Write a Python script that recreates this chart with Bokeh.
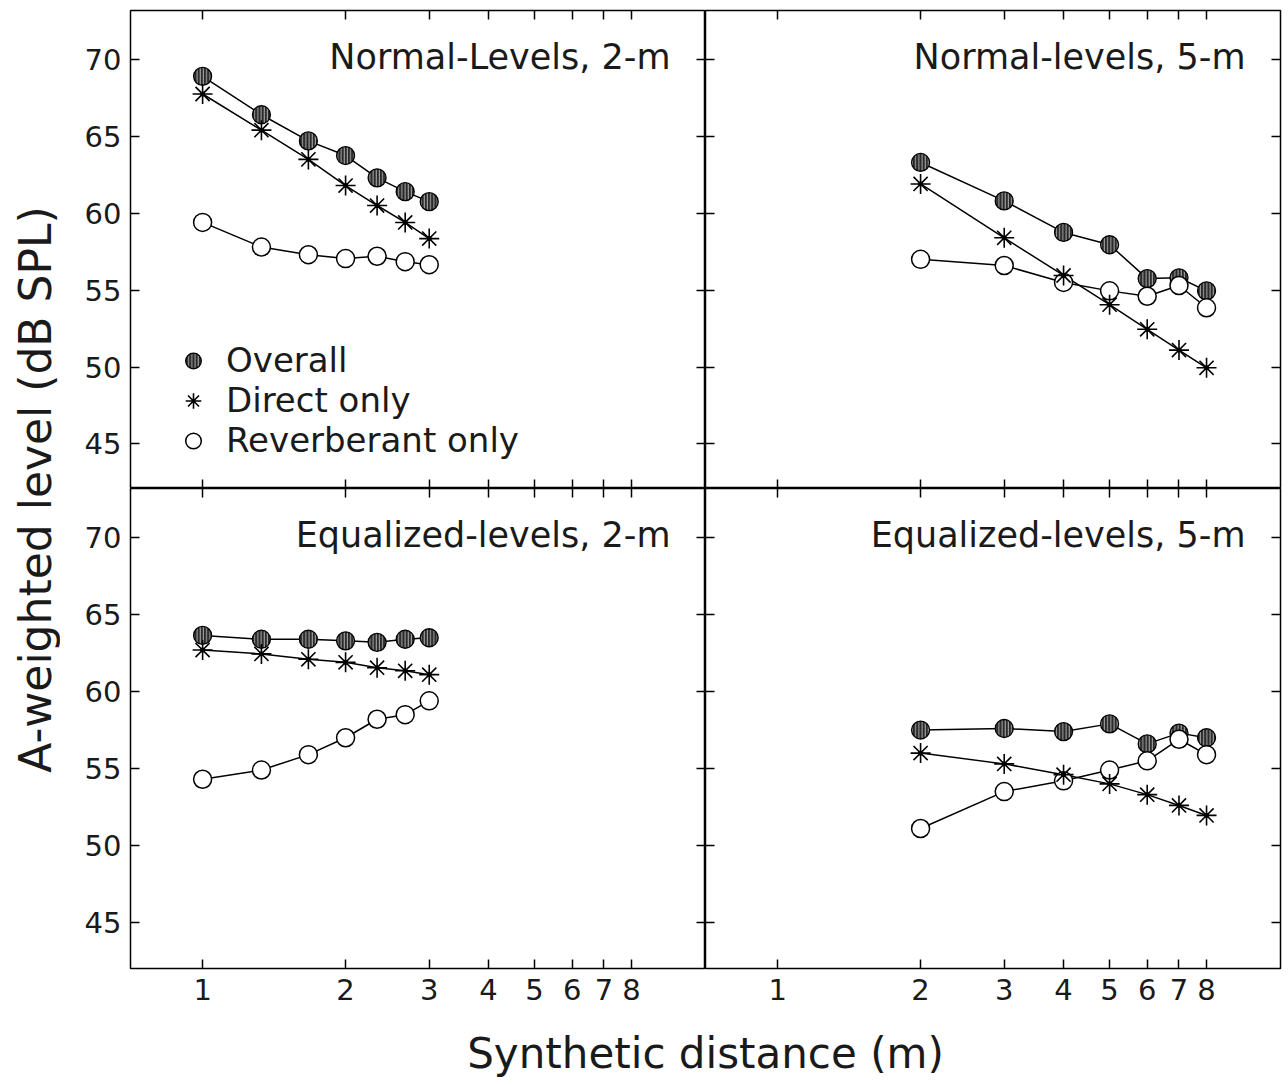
import math
from bokeh.plotting import figure
from bokeh.layouts import column, row
from bokeh.models import (Range1d, LinearAxis, FixedTicker, Legend, LegendItem, Label,
                          CustomLabelingPolicy)
from bokeh.core.properties import value
from bokeh.embed import file_html
from bokeh.resources import INLINE

FONT = "DejaVu Sans"

# ---------------- data ----------------
dist_2m = [1, 1.33, 1.67, 2, 2.33, 2.67, 3]
dist_5m = [2, 3, 4, 5, 6, 7, 8]

normal_2m_overall = [68.9, 66.4, 64.7, 63.75, 62.3, 61.4, 60.75]
normal_2m_direct = [67.75, 65.4, 63.5, 61.8, 60.5, 59.4, 58.35]
normal_2m_reverb = [59.4, 57.8, 57.3, 57.05, 57.2, 56.85, 56.65]

normal_5m_overall = [63.3, 60.8, 58.75, 57.95, 55.75, 55.8, 54.95]
normal_5m_direct = [61.9, 58.4, 55.95, 54.05, 52.45, 51.1, 49.95]
normal_5m_reverb = [57.0, 56.6, 55.5, 54.95, 54.6, 55.3, 53.85]

equal_2m_overall = [63.65, 63.4, 63.4, 63.3, 63.2, 63.4, 63.5]
equal_2m_direct = [62.7, 62.45, 62.1, 61.9, 61.55, 61.35, 61.1]
equal_2m_reverb = [54.3, 54.9, 55.9, 57.0, 58.2, 58.5, 59.4]

equal_5m_overall = [57.5, 57.6, 57.4, 57.9, 56.6, 57.3, 57.0]
equal_5m_direct = [56.0, 55.3, 54.6, 54.0, 53.3, 52.6, 51.95]
equal_5m_reverb = [51.1, 53.5, 54.2, 54.9, 55.5, 56.9, 55.9]

titles = ["Normal-Levels, 2-m", "Normal-levels, 5-m",
          "Equalized-levels, 2-m", "Equalized-levels, 5-m"]
series_labels = ["Overall", "Direct only", "Reverberant only"]
x_ticks = [1, 2, 3, 4, 5, 6, 7, 8]
y_ticks = [45, 50, 55, 60, 65, 70]
x_label = "Synthetic distance (m)"
y_label = "A-weighted level (dB SPL)"

X_RANGE = (0.705, 11.45)
FRAME_W = 575
TEXT_COLOR = "#1a1a1a"

NO_LABELS = CustomLabelingPolicy(code="""
const ids = [...indices.ones()]
for (const i of ids) indices.unset(i)
return indices
""")


def style_axis(ax, ticks, show_labels, size="29px", standoff=9):
    ax.ticker = FixedTicker(ticks=ticks, minor_ticks=[])
    ax.major_tick_in = 9
    ax.major_tick_out = 0
    ax.minor_tick_in = 0
    ax.minor_tick_out = 0
    ax.major_tick_line_color = "black"
    ax.major_tick_line_width = 1.5
    ax.axis_line_color = None
    ax.major_label_overrides = {t: str(t) for t in ticks}
    ax.major_label_text_font = FONT
    ax.major_label_text_color = TEXT_COLOR
    if show_labels:
        ax.major_label_text_font_size = size
        ax.major_label_standoff = standoff
    else:
        ax.major_label_text_font_size = "0px"
        ax.major_label_policy = NO_LABELS
        ax.major_label_standoff = 0


def make_panel(title, x, overall, direct, reverb, left_col, top_row, legend=False):
    frame_h = 478 if top_row else 480
    y_rng = (42.1, 73.18) if top_row else (42.0, 73.2)
    p = figure(x_axis_type="log",
               x_range=Range1d(*X_RANGE), y_range=Range1d(*y_rng),
               frame_width=FRAME_W, frame_height=frame_h,
               x_axis_location=None, y_axis_location=None,
               output_backend="svg", toolbar_location=None,
               min_border_left=70 if left_col else 0,
               min_border_right=0 if left_col else 8,
               min_border_top=10 if top_row else 0,
               min_border_bottom=0 if top_row else 51,
               outline_line_color="black", outline_line_width=1.5,
               background_fill_color="white", border_fill_color="white")
    p.xgrid.visible = False
    p.ygrid.visible = False

    for side in ("left", "right"):
        ax = LinearAxis()
        style_axis(ax, y_ticks, show_labels=(side == "left" and left_col))
        p.add_layout(ax, side)
    for side in ("below", "above"):
        ax = LinearAxis()
        style_axis(ax, x_ticks, show_labels=(side == "below" and not top_row), standoff=10)
        p.add_layout(ax, side)

    p.line(x, overall, line_color="black", line_width=1.5)
    p.line(x, direct, line_color="black", line_width=1.5)
    p.line(x, reverb, line_color="black", line_width=1.5)

    r_over = p.scatter(x, overall, marker="circle", size=18, fill_color="#2a2a2a",
                       line_color="black", line_width=1.3,
                       hatch_pattern="vertical_line", hatch_color="#d0d0d0",
                       hatch_scale=3.2, hatch_weight=0.8)
    r_rev = p.scatter(x, reverb, marker="circle", size=18, fill_color="white",
                      line_color="black", line_width=1.5)
    r_dir = p.scatter(x, direct, marker="asterisk", size=20, line_color="black",
                      line_width=1.6)
    p.scatter(x, direct, marker="circle", size=4, fill_color="black", line_color="black")

    p.add_layout(Label(x=FRAME_W - 35, y=frame_h - 46, x_units="screen", y_units="screen",
                       text=title, text_align="right", text_baseline="middle",
                       text_font=FONT, text_font_size="35px", text_color=TEXT_COLOR))

    if legend:
        leg = Legend(items=[LegendItem(label=series_labels[0], renderers=[r_over]),
                            LegendItem(label=series_labels[1], renderers=[r_dir]),
                            LegendItem(label=series_labels[2], renderers=[r_rev])],
                     location=(40, 28), orientation="vertical",
                     glyph_width=46, glyph_height=39, spacing=0, padding=0, margin=0,
                     label_standoff=10, label_text_font=FONT, label_text_font_size="34px",
                     label_text_color=TEXT_COLOR, label_height=36,
                     border_line_color=None, background_fill_alpha=0)
        p.add_layout(leg)
    return p


tl = make_panel(titles[0], dist_2m, normal_2m_overall, normal_2m_direct, normal_2m_reverb,
                left_col=True, top_row=True, legend=True)
tr = make_panel(titles[1], dist_5m, normal_5m_overall, normal_5m_direct, normal_5m_reverb,
                left_col=False, top_row=True)
bl = make_panel(titles[2], dist_2m, equal_2m_overall, equal_2m_direct, equal_2m_reverb,
                left_col=True, top_row=False)
br = make_panel(titles[3], dist_5m, equal_5m_overall, equal_5m_direct, equal_5m_reverb,
                left_col=False, top_row=False)

# shared axis titles
YL_W, TOTAL_H = 60, 1085
ylab = figure(width=YL_W, height=TOTAL_H, x_range=Range1d(0, YL_W), y_range=Range1d(TOTAL_H, 0),
              x_axis_location=None, y_axis_location=None, output_backend="svg",
              toolbar_location=None, min_border=0, outline_line_color=None)
ylab.xgrid.visible = False
ylab.ygrid.visible = False
ylab.text(x=[35], y=[489], text=[y_label], angle=math.pi / 2,
          text_align="center", text_baseline="middle",
          text_font=value(FONT), text_font_size="44px", text_color=TEXT_COLOR)

XL_W = 70 + 2 * FRAME_W + 8
XL_H = TOTAL_H - (10 + 478 + 480 + 51)
xlab = figure(width=XL_W, height=XL_H, x_range=Range1d(0, XL_W), y_range=Range1d(XL_H, 0),
              x_axis_location=None, y_axis_location=None, output_backend="svg",
              toolbar_location=None, min_border=0, outline_line_color=None)
xlab.xgrid.visible = False
xlab.ygrid.visible = False
xlab.text(x=[70 + FRAME_W], y=[XL_H - 32], text=[x_label],
          text_align="center", text_baseline="middle",
          text_font=value(FONT), text_font_size="42px", text_color=TEXT_COLOR)

layout = row(ylab, column(row(tl, tr), row(bl, br), xlab))

with open("out.html", "w") as f:
    f.write(file_html(layout, INLINE))
